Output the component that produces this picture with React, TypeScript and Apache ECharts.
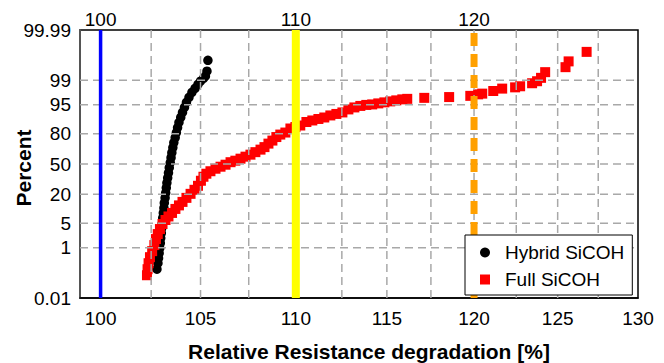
import React, { useEffect, useRef } from "react";
import * as echarts from "echarts";

// ---- data ----
const hybridX = [102.79, 102.84, 102.87, 102.9, 102.93, 102.96, 102.98, 103.01, 103.03, 103.06, 103.08, 103.11, 103.14, 103.16, 103.2, 103.23, 103.26, 103.29, 103.33, 103.37, 103.41, 103.46, 103.5, 103.54, 103.59, 103.64, 103.71, 103.77, 103.83, 103.9, 103.99, 104.08, 104.18, 104.28, 104.41, 104.56, 104.72, 104.87, 105.0, 105.15, 105.25, 105.33, 105.38];
const hybridPct = [0.175, 0.295, 0.447, 0.668, 0.977, 1.41, 1.99, 2.76, 3.78, 5.07, 6.71, 8.71, 11.14, 14.03, 17.36, 21.18, 25.43, 30.12, 35.12, 40.4, 45.9, 51.44, 56.97, 62.37, 67.54, 72.38, 76.85, 80.87, 84.44, 87.53, 90.18, 92.38, 94.19, 95.64, 96.78, 97.67, 98.22, 98.65, 98.92, 99.13, 99.26, 99.5, 99.8];

const fullX = [102.29, 102.32, 102.37, 102.44, 102.55, 102.66, 102.74, 102.83, 102.94, 103.07, 103.22, 103.37, 103.55, 103.72, 103.9, 104.08, 104.28, 104.49, 104.69, 104.87, 105.02, 105.15, 105.3, 105.51, 105.77, 106.03, 106.29, 106.55, 106.8, 107.07, 107.33, 107.59, 107.85, 108.12, 108.33, 108.54, 108.75, 108.96, 109.17, 109.44, 109.71, 109.98, 110.24, 110.57, 110.89, 111.22, 111.54, 111.87, 112.2, 112.53, 112.86, 113.19, 113.52, 113.85, 114.18, 114.52, 114.86, 115.19, 115.53, 115.87, 116.15, 117.12, 118.55, 119.78, 120.24, 120.48, 121.13, 121.66, 122.43, 122.73, 123.45, 123.75, 123.99, 124.24, 125.48, 125.67, 126.78];
const fullPct = [0.101, 0.175, 0.295, 0.486, 0.78, 1.22, 1.86, 2.59, 3.55, 4.8, 6.01, 7.27, 8.72, 10.62, 12.53, 14.64, 17.36, 20.38, 23.7, 27.26, 32.1, 36.17, 39.36, 42.04, 44.79, 47.01, 49.22, 52.0, 53.67, 55.88, 58.07, 60.23, 62.89, 65.5, 68.04, 71.43, 74.22, 77.27, 79.3, 80.87, 83.77, 84.78, 85.73, 87.82, 88.65, 89.43, 90.16, 91.11, 91.76, 92.38, 93.51, 94.18, 94.65, 94.95, 95.09, 95.37, 95.64, 95.89, 96.13, 96.36, 96.47, 96.68, 96.84, 97.07, 97.34, 97.46, 97.86, 98.18, 98.33, 98.45, 98.75, 98.92, 99.16, 99.46, 99.64, 99.78, 99.907];

const percentTicks = [0.01, 1, 5, 20, 50, 80, 95, 99, 99.99];
const percentGrid = [1, 5, 20, 50, 80, 95, 99];
const xLabelTicks = [100, 105, 110, 115, 120, 125, 130];
const xGridTicks = [102.5, 105, 107.5, 110, 112.5, 115, 117.5, 120, 122.5, 125, 127.5];
const topTicks = [100, 110, 120];
const xMin = 99;
const xMax = 130;
const refBlue = 100;
const refYellow = 110;
const refOrange = 120;

// inverse normal CDF (Acklam)
function probit(p: number): number {
  const a = [-3.969683028665376e1, 2.209460984245205e2, -2.759285104469687e2, 1.38357751867269e2, -3.066479806614716e1, 2.506628277459239];
  const b = [-5.447609879822406e1, 1.615858368580409e2, -1.556989798598866e2, 6.680131188771972e1, -1.328068155288572e1];
  const c = [-7.784894002430293e-3, -3.223964580411365e-1, -2.400758277161838, -2.549732539343734, 4.374664141464968, 2.938163982698783];
  const d = [7.784695709041462e-3, 3.224671290700398e-1, 2.445134137142996, 3.754408361116067];
  const pl = 0.02425;
  if (p < pl) {
    const q = Math.sqrt(-2 * Math.log(p));
    return (((((c[0] * q + c[1]) * q + c[2]) * q + c[3]) * q + c[4]) * q + c[5]) / ((((d[0] * q + d[1]) * q + d[2]) * q + d[3]) * q + 1);
  }
  if (p <= 1 - pl) {
    const q = p - 0.5;
    const r = q * q;
    return ((((((a[0] * r + a[1]) * r + a[2]) * r + a[3]) * r + a[4]) * r + a[5]) * q) / (((((b[0] * r + b[1]) * r + b[2]) * r + b[3]) * r + b[4]) * r + 1);
  }
  const q = Math.sqrt(-2 * Math.log(1 - p));
  return -(((((c[0] * q + c[1]) * q + c[2]) * q + c[3]) * q + c[4]) * q + c[5]) / ((((d[0] * q + d[1]) * q + d[2]) * q + d[3]) * q + 1);
}

const zOf = (pct: number) => probit(pct / 100);
const lx = (v: number) => Math.log(v);
const zMin = zOf(percentTicks[0]);
const zMax = zOf(percentTicks[percentTicks.length - 1]);

const FONT = "'Liberation Sans', Arial, Helvetica, sans-serif";

export default function App() {
  const ref = useRef<HTMLDivElement>(null);
  useEffect(() => {
    if (!ref.current) return;
    const chart = echarts.init(ref.current, undefined, { renderer: "svg" });
    const yLabelFmt = (v: number) => {
      for (const p of percentTicks) {
        if (Math.abs(zOf(p) - v) < 1e-6) return String(p);
      }
      return "";
    };
    const xLabelFmt = (v: number) => String(Math.round(Math.exp(v)));
    const vline = (x: number) => [
      [lx(x), zMin],
      [lx(x), zMax],
    ];
    // all grid lines in one line series, separated by empty points
    const gridData: any[] = [];
    xGridTicks.forEach((v) => {
      gridData.push([lx(v), zMin], [lx(v), zMax], [lx(v), "-"]);
    });
    percentGrid.forEach((p) => {
      gridData.push([lx(xMin), zOf(p)], [lx(xMax), zOf(p)], [lx(xMax), "-"]);
    });
    chart.setOption({
      animation: false,
      backgroundColor: "#fff",
      textStyle: { fontFamily: FONT },
      grid: {
        left: 80,
        right: 26,
        top: 30,
        bottom: 65,
        show: true,
        backgroundColor: "transparent",
        borderColor: "#000",
        borderWidth: 1.5,
        outerBoundsMode: "none",
        containLabel: false,
      },
      legend: {
        data: ["Hybrid SiCOH", "Full SiCOH"],
        orient: "vertical",
        left: 465,
        top: 235,
        padding: [8, 8, 6, 15],
        itemWidth: 10,
        itemHeight: 10,
        itemGap: 8,
        borderColor: "#000",
        borderWidth: 1,
        borderRadius: 0,
        backgroundColor: "#fff",
        textStyle: { fontSize: 19, color: "#000", fontFamily: FONT, padding: [0, 0, 0, 10] },
      },
      xAxis: [
        {
          type: "value",
          position: "bottom",
          min: lx(xMin),
          max: lx(xMax),
          axisLine: { show: true, onZero: false, lineStyle: { color: "#000", width: 1.5 } },
          axisTick: { show: false },
          axisLabel: { customValues: xLabelTicks.map(lx), formatter: xLabelFmt, fontSize: 19, color: "#000", margin: 11, fontFamily: FONT },
          splitLine: { show: false },
          name: "Relative Resistance degradation [%]",
          nameLocation: "middle",
          nameGap: 43,
          nameMoveOverlap: false,
          nameTextStyle: { fontSize: 21, fontWeight: "bold", color: "#000", fontFamily: FONT, padding: [0, 0, 0, 20] },
        },
        {
          type: "value",
          position: "top",
          min: lx(xMin),
          max: lx(xMax),
          axisLine: { show: false, onZero: false },
          axisTick: { show: false },
          splitLine: { show: false },
          axisLabel: { customValues: topTicks.map(lx), formatter: xLabelFmt, fontSize: 19, color: "#000", margin: 1, fontFamily: FONT },
        },
      ],
      yAxis: {
        type: "value",
        min: zMin,
        max: zMax,
        axisLine: { show: true, onZero: false, lineStyle: { color: "#555", width: 2 } },
        axisTick: { show: false },
        axisLabel: { customValues: percentTicks.map(zOf), formatter: yLabelFmt, fontSize: 19, color: "#000", margin: 9, fontFamily: FONT },
        splitLine: { show: false },
        name: "Percent",
        nameLocation: "middle",
        nameGap: 46,
        nameMoveOverlap: false,
        nameTextStyle: { fontSize: 21, fontWeight: "bold", color: "#000", fontFamily: FONT, padding: [0, 8, 0, 0] },
      },
      series: [
        {
          name: "grid lines",
          type: "line",
          data: gridData,
          connectNulls: false,
          symbol: "none",
          silent: true,
          color: "#a8a8a8",
          lineStyle: { color: "#a8a8a8", width: 1.5, type: [8, 5] as any, opacity: 1 },
        },
        {
          name: "ref120",
          type: "line",
          data: vline(refOrange),
          symbol: "none",
          lineStyle: { color: "#ffa000", width: 7, type: [13, 8] as any },
          silent: true,
        },
        {
          name: "ref100",
          type: "line",
          data: vline(refBlue),
          symbol: "none",
          lineStyle: { color: "#0000ff", width: 3.5 },
          silent: true,
        },
        {
          name: "Hybrid SiCOH",
          type: "scatter",
          symbol: "circle",
          symbolSize: 9.5,
          itemStyle: { color: "#000", opacity: 1 },
          data: hybridX.map((x, i) => [lx(x), zOf(hybridPct[i])]),
        },
        {
          name: "Full SiCOH",
          type: "scatter",
          symbol: "rect",
          symbolSize: 10,
          itemStyle: { color: "#ff0000", opacity: 1 },
          data: fullX.map((x, i) => [lx(x), zOf(fullPct[i])]),
        },
        {
          name: "ref110",
          type: "line",
          data: vline(refYellow),
          symbol: "none",
          lineStyle: { color: "#ffff00", width: 8 },
          silent: true,
        },
      ],
    });
    return () => chart.dispose();
  }, []);
  return <div ref={ref} style={{ position: "fixed", left: 0, top: 0, width: 664, height: 363, background: "#fff" }} />;
}
